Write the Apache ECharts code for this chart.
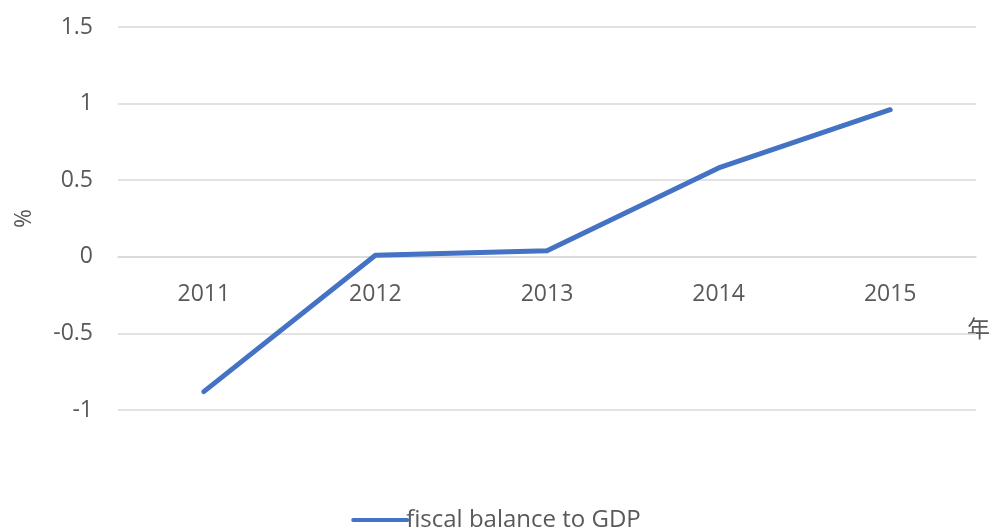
<!DOCTYPE html>
<html>
<head>
<meta charset="utf-8">
<script src="https://cdn.jsdelivr.net/npm/echarts@6/dist/echarts.min.js"></script>
<style>html,body{margin:0;padding:0;background:#fff}#c{width:992px;height:529px}</style>
</head>
<body>
<div id="c"></div>
<script>
var categories = ['2011', '2012', '2013', '2014', '2015'];
var fiscalBalance = [-0.88, 0.01, 0.04, 0.58, 0.96];
var seriesName = 'fiscal balance to GDP';
var yName = '%';
var xName = '年';

var FONT = '"Open Sans", "Noto Sans CJK KR", sans-serif';
var FS = 23;
var GRID = {left: 118, right: 16, top: 27, bottom: 119, containLabel: false};
var chart = echarts.init(document.getElementById('c'), null, {renderer: 'canvas'});
chart.setOption({
  animation: false,
  textStyle: {fontFamily: FONT},
  grid: GRID,
  legend: {
    bottom: -8,
    left: 'center',
    icon: 'path://M2,0 L55,0 A2,2 0 0 1 55,4 L2,4 A2,2 0 0 1 2,0 Z',
    itemWidth: 58,
    itemHeight: 5,
    itemGap: 10,
    textStyle: {fontFamily: FONT, fontSize: 24, color: '#595959', padding: [0, 0, 0, -8]},
    data: [seriesName]
  },
  xAxis: {
    type: 'category',
    data: categories,
    boundaryGap: true,
    offset: 0,
    axisLine: {show: true, onZero: false, lineStyle: {color: '#d9d9d9', width: 1.5}},
    axisTick: {show: false},
    axisLabel: {margin: 26, fontSize: FS, color: '#595959', fontFamily: FONT},
    splitLine: {show: false}
  },
  yAxis: {
    type: 'value',
    min: -1,
    max: 1.5,
    interval: 0.5,
    name: yName,
    nameLocation: 'middle',
    nameRotate: 90,
    nameGap: 82,
    nameTextStyle: {fontSize: FS, color: '#595959', fontFamily: FONT},
    axisLine: {show: false},
    axisTick: {show: false},
    axisLabel: {margin: 25, fontSize: FS, color: '#595959', fontFamily: FONT},
    splitLine: {lineStyle: {color: '#d9d9d9', width: 1.5}}
  },
  graphic: [{
    type: 'text',
    right: 2,
    top: 319,
    style: {text: xName, fontSize: FS, fill: '#595959', fontFamily: FONT}
  }],
  series: [{
    name: seriesName,
    type: 'line',
    data: fiscalBalance,
    symbol: 'none',
    lineStyle: {color: '#4472C4', width: 5, cap: 'round', join: 'round'},
    itemStyle: {color: '#4472C4'}
  }]
});
// Place the category axis on the value axis' zero line
var zeroY = chart.convertToPixel({yAxisIndex: 0}, 0);
var bottomY = chart.convertToPixel({yAxisIndex: 0}, -1);
chart.setOption({xAxis: {offset: zeroY - bottomY}});
</script>
</body>
</html>
